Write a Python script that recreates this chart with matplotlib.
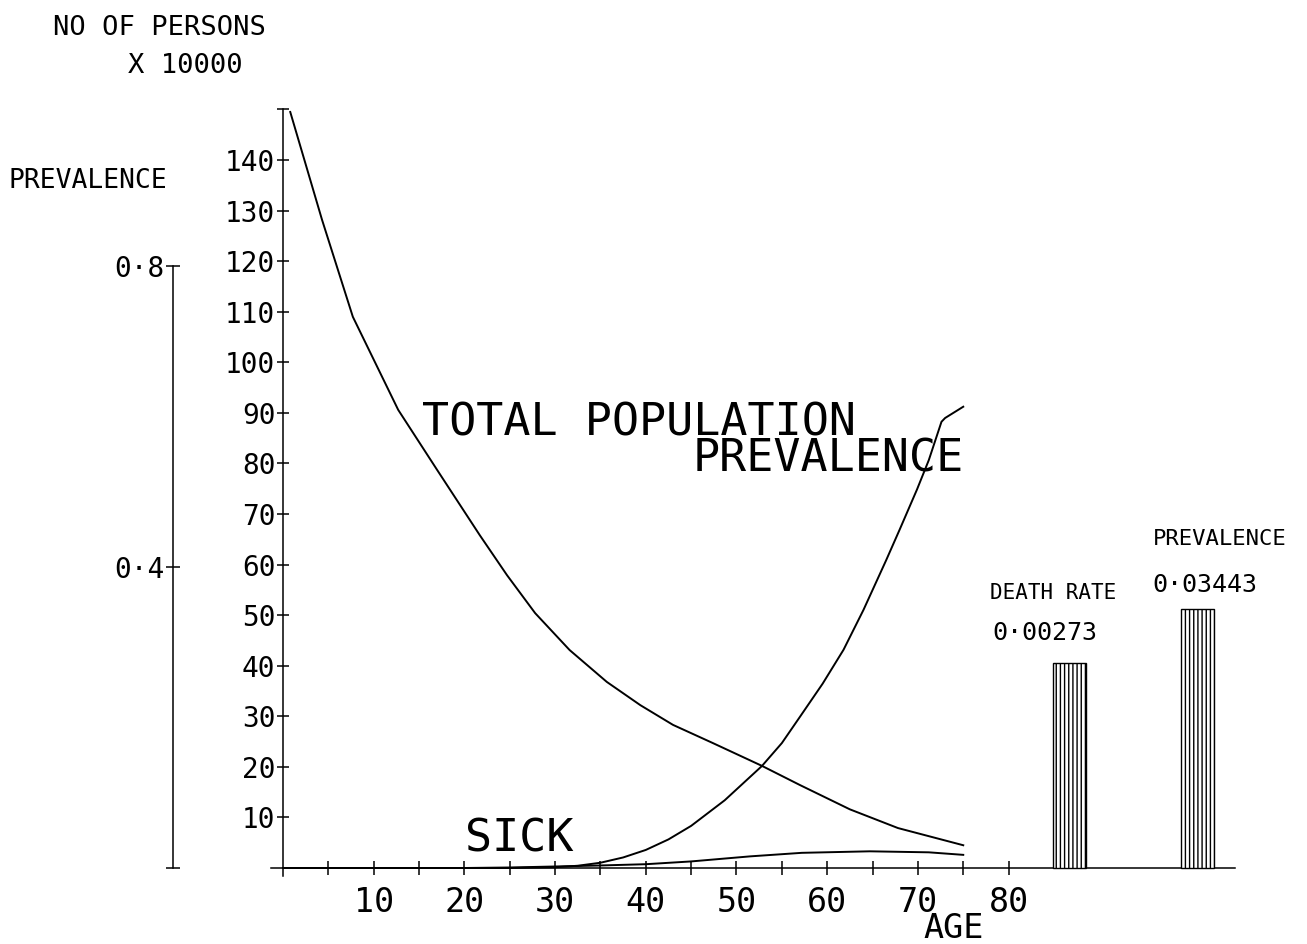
import matplotlib
matplotlib.use("Agg")
import matplotlib.pyplot as plt

plt.rcParams['font.family'] = ['DejaVu Sans Mono']
plt.rcParams['hatch.linewidth'] = 1.0
plt.rcParams['hatch.color'] = 'black'

# Age in years; persons in units of 10 000
pop_age = [0.8, 4.3, 7.7, 12.7, 17.0, 21.7, 24.7, 27.8, 31.6, 35.7, 39.4, 43.0, 47.4,
           52.8, 57.0, 62.5, 67.8, 75.0]
pop_total = [149.5, 128.2, 109.0, 90.6, 78.7, 65.8, 57.9, 50.4, 43.1, 36.8, 32.2, 28.3, 24.7,
             20.2, 16.4, 11.6, 7.9, 4.5]

sick_age = [0, 10, 20, 25, 30, 35, 40, 45, 51.5, 57.2, 64.7, 71.2, 75.0]
sick_count = [0, 0, 0, 0.1, 0.3, 0.5, 0.75, 1.3, 2.3, 3.0, 3.3, 3.1, 2.6]

prev_age = [0, 20, 25, 30, 32.5, 35, 37.5, 40, 42.5, 45, 48.7, 52.8, 55, 57, 59.5, 61.8,
            64, 66.5, 68, 69.9, 71.2, 72.6, 73.0, 75.0]
prev_rate = [0, 0, 0.0, 0.001, 0.003, 0.007, 0.014, 0.024, 0.038, 0.056, 0.090, 0.1355,
             0.166, 0.201, 0.245, 0.290, 0.343, 0.409, 0.450, 0.503, 0.542, 0.593, 0.598, 0.613]

# Summary bars, drawn on the prevalence scale with a magnification factor each
bar_names = ["DEATH RATE", "PREVALENCE"]
bar_values = [0.00273, 0.03443]
bar_scale = [100, 10]
bar_age = [86.7, 100.8]
bar_width = 3.6

x_major = [10, 20, 30, 40, 50, 60, 70, 80]
x_minor = [5, 15, 25, 35, 45, 55, 65, 75]
y_persons = list(range(10, 160, 10))
y_prev = [0.0, 0.4, 0.8]

# Page geometry (pixels) used to set the data limits
W, H = 1307, 944
X0, AGE_PX = 283, 9.07
Y0, PERS_PX = 868, 5.057
PREV_PX = 752.5

fig = plt.figure(figsize=(W / 100, H / 100), dpi=100)
ax = fig.add_axes([0, 0, 1, 1])
ax.set_xlim(-X0 / AGE_PX, (W - X0) / AGE_PX)
ax.set_ylim(-(H - Y0) / PERS_PX, Y0 / PERS_PX)
ax2 = ax.twinx()
ax2.set_ylim(-(H - Y0) / PREV_PX, Y0 / PREV_PX)

for a in (ax, ax2):
    for s in a.spines.values():
        s.set_visible(False)
    a.patch.set_visible(False)

lw_axis = 1.1
ax.spines['left'].set_visible(True)
ax.spines['left'].set_position(('data', 0))
ax.spines['left'].set_bounds(-1.5, 150)
ax.spines['left'].set_linewidth(lw_axis)
ax.spines['bottom'].set_visible(True)
ax.spines['bottom'].set_position(('data', 0))
ax.spines['bottom'].set_bounds(-1.3, 105)
ax.spines['bottom'].set_linewidth(lw_axis)

ax2.spines['left'].set_visible(True)
ax2.spines['left'].set_position(('data', (173 - X0) / AGE_PX))
ax2.spines['left'].set_bounds(0, 0.8)
ax2.spines['left'].set_linewidth(lw_axis)
ax2.yaxis.set_ticks_position('left')
ax2.xaxis.set_visible(False)

ax.xaxis.set_ticks_position('bottom')
ax.yaxis.set_ticks_position('left')
ax.set_xticks(x_major, [str(v) for v in x_major])
ax.set_xticks(x_minor, minor=True)
ax.tick_params(axis='x', which='both', direction='inout', length=10, width=lw_axis,
               labelsize=24, pad=8)
ax.set_yticks(y_persons, [str(v) if v < 150 else '' for v in y_persons])
ax.tick_params(axis='y', direction='inout', length=9, width=lw_axis, labelsize=20, pad=1)

ax2.set_yticks(y_prev, ['' if v == 0 else f"{v:.1f}".replace('.', '·') for v in y_prev])
ax2.tick_params(axis='y', direction='inout', length=10, width=lw_axis, labelsize=20, pad=1)

# Curves
lw = 1.4
ax.plot(pop_age, pop_total, color='black', lw=lw)
ax.plot(sick_age, sick_count, color='black', lw=lw)
ax2.plot(prev_age, prev_rate, color='black', lw=lw)

# Hatched summary bars
heights = [v * k for v, k in zip(bar_values, bar_scale)]
ax2.bar(bar_age, heights, width=bar_width, facecolor='white', edgecolor='black',
        hatch='||||', linewidth=1.0)

# Labels
ax.text(-25.4, 164.7, "NO OF PERSONS", fontsize=19.5, ha='left', va='baseline')
ax.text(-17.1, 157.2, "X 10000", fontsize=19.5, ha='left', va='baseline')
ax.text(-30.3, 134.5, "PREVALENCE", fontsize=19, ha='left', va='baseline')
ax.text(15.3, 85.6, "TOTAL POPULATION", fontsize=32.4, ha='left', va='baseline')
ax.text(45.2, 78.5, "PREVALENCE", fontsize=32.4, ha='left', va='baseline')
ax.text(20.1, 3.2, "SICK", fontsize=32.4, ha='left', va='baseline')
ax.text(70.6, -13.8, "AGE", fontsize=24, ha='left', va='baseline')

ax.text(78.0, 53.2, bar_names[0], fontsize=15, ha='left', va='baseline')
ax.text(78.2, 45.1, f"{bar_values[0]:.5f}".replace('.', '·'), fontsize=18,
        ha='left', va='baseline')
ax.text(95.9, 63.9, bar_names[1], fontsize=16, ha='left', va='baseline')
ax.text(95.9, 54.6, f"{bar_values[1]:.5f}".replace('.', '·'), fontsize=18,
        ha='left', va='baseline')

fig.savefig("out.png", dpi=100, facecolor='white')
